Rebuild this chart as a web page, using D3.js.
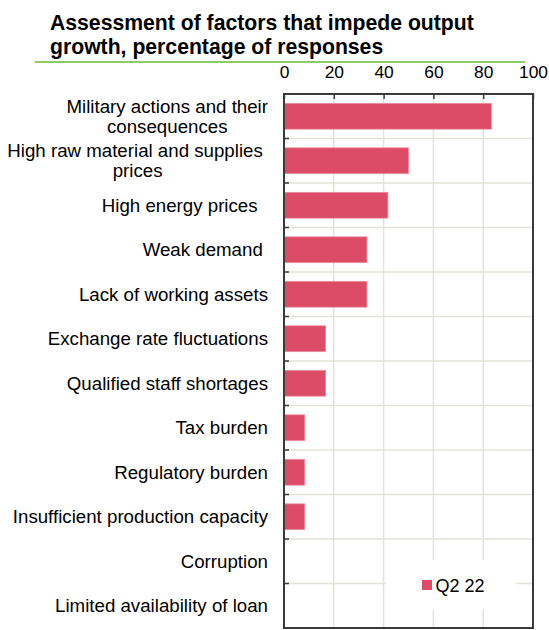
<!DOCTYPE html>
<html>
<head>
<meta charset="utf-8">
<script src="https://cdn.jsdelivr.net/npm/d3@7"></script>
<style>
  html, body { margin: 0; padding: 0; background: #fff; }
  svg { display: block; font-family: "Liberation Sans", Arial, sans-serif; }
  .lbl { white-space: pre; }
</style>
</head>
<body>
<svg id="chart" width="549" height="630"></svg>
<script>
// Factors impeding output growth, share of responses (%)
const titleLines = ["Assessment of factors that impede output", "growth, percentage of responses"];
const categories = [
  "Military actions and their|consequences",
  "High raw material and supplies |prices",
  "High energy prices  ",
  "Weak demand ",
  "Lack of working assets",
  "Exchange rate fluctuations",
  "Qualified staff shortages",
  "Tax burden",
  "Regulatory burden",
  "Insufficient production capacity",
  "Corruption",
  "Limited availability of loan"
];
const seriesName = "Q2 22";
const values = [83.3, 50, 41.7, 33.3, 33.3, 16.7, 16.7, 8.3, 8.3, 8.3, 0, 0];
const xTicks = [0, 20, 40, 60, 80, 100];

const svg = d3.select("#chart");
const plot = { left: 284, right: 533, top: 94, bottom: 628 };

const x = d3.scaleLinear().domain([0, 100]).range([plot.left, plot.right]);
const y = d3.scaleBand().domain(categories).range([plot.top, plot.bottom])
  .paddingInner(0.42).paddingOuter(0.21);
const step = y.step();
const boundary = i => plot.top + i * step;

// Title (two lines) and green rule
svg.append("g").selectAll("text").data(titleLines).join("text")
  .attr("x", 50).attr("y", (d, i) => 30.2 + i * 24)
  .attr("font-size", 21.2).attr("font-weight", "bold").attr("fill", "#000")
  .text(d => d);
svg.append("line").attr("x1", 35).attr("x2", 525).attr("y1", 62).attr("y2", 62)
  .attr("stroke", "#8fcb62").attr("stroke-width", 2);

// Gridlines
const grid = svg.append("g").attr("stroke", "#e3e3d9").attr("stroke-width", 1.5);
grid.selectAll("line.v").data(xTicks.slice(1, -1)).join("line").attr("class", "v")
  .attr("x1", d => x(d)).attr("x2", d => x(d))
  .attr("y1", plot.top).attr("y2", plot.bottom);
grid.selectAll("line.h").data(d3.range(1, categories.length)).join("line").attr("class", "h")
  .attr("x1", plot.left).attr("x2", plot.right)
  .attr("y1", d => boundary(d)).attr("y2", d => boundary(d));

// Bars
svg.append("g").selectAll("rect").data(values).join("rect")
  .attr("x", x(0))
  .attr("y", (d, i) => y(categories[i]))
  .attr("width", d => x(d) - x(0))
  .attr("height", y.bandwidth())
  .attr("fill", "#dc4c66")
  .attr("stroke", d => d > 0 ? "#e98c9c" : "none")
  .attr("stroke-width", 0.8);

// Top value axis (ticks pointing into the plot)
const xAxis = d3.axisTop(x).tickValues(xTicks).tickSize(-5).tickPadding(0).tickSizeOuter(0);
const gx = svg.append("g").attr("transform", `translate(0,${plot.top})`).call(xAxis);
gx.select(".domain").remove();
gx.selectAll(".tick line").attr("stroke", "#3a3a3a").attr("stroke-width", 1.5);
gx.selectAll(".tick text").attr("y", 77.7 - plot.top).attr("dy", 0)
  .attr("font-size", 17.4).attr("fill", "#000").attr("font-family", "Liberation Sans, Arial, sans-serif");

// Category ticks on the left axis
svg.append("g").selectAll("line").data(d3.range(1, categories.length)).join("line")
  .attr("x1", plot.left).attr("x2", plot.left + 5)
  .attr("y1", d => boundary(d)).attr("y2", d => boundary(d))
  .attr("stroke", "#3a3a3a").attr("stroke-width", 1.5);

// Frame
svg.append("rect").attr("x", plot.left).attr("y", plot.top)
  .attr("width", plot.right - plot.left).attr("height", plot.bottom - plot.top)
  .attr("fill", "none").attr("stroke", "#3a3a3a").attr("stroke-width", 2);

// Category labels: block right-aligned, lines centred within the block
const labelRight = 268, lineH = 20, fs = 18.7;
categories.forEach(cat => {
  const lines = cat.split("|");
  const g = svg.append("g");
  const texts = g.selectAll("text").data(lines).join("text").attr("class", "lbl")
    .attr("font-size", fs).attr("fill", "#000").attr("text-anchor", "middle")
    .text(d => d);
  let w = 0;
  texts.each(function () { w = Math.max(w, this.getComputedTextLength()); });
  const cy = y(cat) + y.bandwidth() / 2;
  const y0 = cy - (lines.length - 1) * lineH / 2 + fs * 0.35;
  texts.attr("x", labelRight - w / 2).attr("y", (d, i) => y0 + i * lineH);
});

// Legend
const leg = svg.append("g");
leg.append("rect").attr("x", 386).attr("y", 560).attr("width", 130).attr("height", 49).attr("fill", "#fff");
leg.append("rect").attr("x", 422).attr("y", 580).attr("width", 10).attr("height", 10).attr("fill", "#dc4c66");
leg.append("text").attr("x", 435.5).attr("y", 591.5).attr("font-size", 18).attr("fill", "#000").text(seriesName);
</script>
</body>
</html>
